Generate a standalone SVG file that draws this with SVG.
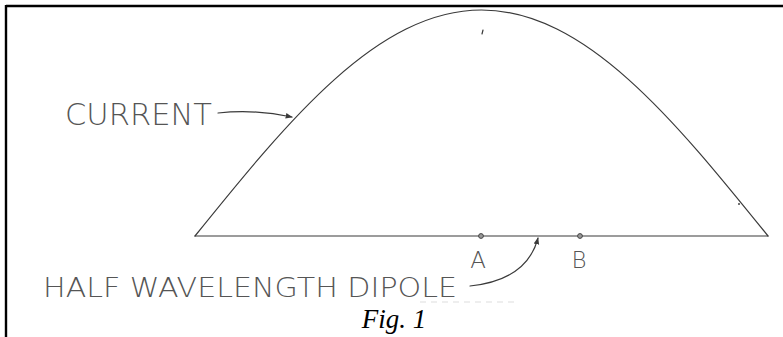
<svg xmlns="http://www.w3.org/2000/svg" width="783" height="337" viewBox="0 0 783 337">
<style>
.pen{fill:none;stroke:#3a3a3a;stroke-width:1.2;stroke-linecap:round}
.hand{font-family:"DejaVu Sans",sans-serif;font-weight:200;fill:#555}
.cap{font-family:"Liberation Serif",serif;font-style:italic;fill:#000}
</style>
<defs>
<marker id="ah" viewBox="0 0 10 10" refX="9" refY="5" markerWidth="7" markerHeight="7" orient="auto" markerUnits="userSpaceOnUse">
<path d="M0,1 L10,5 L0,9 Z" fill="#3a3a3a"/>
</marker>
</defs>
<rect x="0" y="0" width="783" height="337" fill="#fff"/>
<g id="frame">
<line x1="6" y1="6" x2="783" y2="6" stroke="#000" stroke-width="2.4"/>
<line x1="6" y1="5" x2="6" y2="337" stroke="#000" stroke-width="2.4"/>
</g>
<g id="current-curve">
<path class="pen" d="M195,236 C288.4,120.2 377.8,10 481.5,10 C585.2,10 674.6,120.2 768,236"/>
<line class="pen" x1="483" y1="30" x2="482" y2="34" stroke-width="0.8"/>
<circle cx="739" cy="204" r="1" fill="#444"/>
</g>
<g id="dipole">
<line class="pen" x1="195" y1="236" x2="768" y2="236"/>
<circle id="pointA" cx="481" cy="236" r="2.4" fill="#999" stroke="#444" stroke-width="1"/>
<circle id="pointB" cx="580" cy="236" r="2.4" fill="#999" stroke="#444" stroke-width="1"/>
</g>
<g id="connectors">
<path class="pen" d="M218,113 Q255,109 292,117" marker-end="url(#ah)"/>
<path class="pen" d="M470,286 Q527,280 538,238" marker-end="url(#ah)"/>
</g>
<g id="labels">
<text class="hand" x="65" y="125" font-size="30" textLength="147" lengthAdjust="spacingAndGlyphs">CURRENT</text>
<text class="hand" x="43" y="297" font-size="26" textLength="414" lengthAdjust="spacingAndGlyphs">HALF WAVELENGTH DIPOLE</text>
<text class="hand" x="478" y="268" font-size="23" text-anchor="middle">A</text>
<text class="hand" x="579" y="268" font-size="23" text-anchor="middle">B</text>
<line x1="420" y1="302" x2="517" y2="302" stroke="#ddd" stroke-width="1" stroke-dasharray="6 5"/>
</g>
<g id="caption">
<text class="cap" x="394" y="328" font-size="27" text-anchor="middle">Fig. 1</text>
</g>
</svg>
